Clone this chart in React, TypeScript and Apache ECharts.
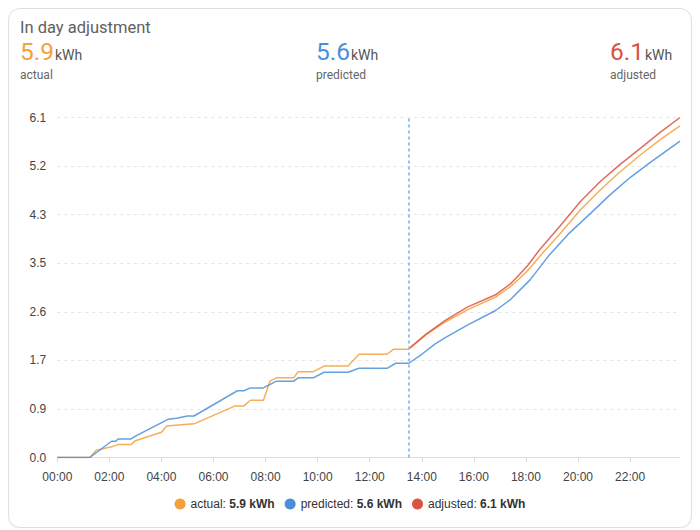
import React, { useEffect, useRef } from "react";
import * as echarts from "echarts";

const seriesNames = ["actual", "predicted", "adjusted"];
const seriesColors = ["#f5a03c", "#4a90d9", "#d9533f"];
const unit = "kWh";

const actualTimes = ["00:00", "01:15", "01:30", "02:05", "02:20", "02:50", "03:00", "04:00", "04:12", "05:15", "06:50", "07:10", "07:25", "07:55", "08:10", "08:25", "09:05", "09:15", "09:50", "10:15", "11:10", "11:35", "12:40", "12:55", "13:30", "14:10", "14:55", "15:45", "16:50", "17:25", "17:45", "18:05", "18:30", "19:20", "20:05", "20:50", "21:35", "22:25", "23:10", "23:55"];
const actualValues = [0, 0, 0.13, 0.19, 0.23, 0.23, 0.3, 0.45, 0.56, 0.6, 0.92, 0.92, 1.02, 1.02, 1.36, 1.42, 1.42, 1.53, 1.53, 1.63, 1.63, 1.84, 1.84, 1.93, 1.93, 2.19, 2.42, 2.63, 2.86, 3.05, 3.19, 3.34, 3.57, 4.0, 4.41, 4.76, 5.08, 5.4, 5.67, 5.91];

const predictedTimes = ["00:00", "01:15", "02:05", "02:15", "02:20", "02:50", "03:00", "04:15", "04:35", "05:00", "05:15", "06:55", "07:10", "07:25", "07:55", "08:25", "09:05", "09:15", "09:50", "10:15", "11:10", "11:35", "12:40", "13:00", "13:30", "14:00", "14:30", "14:55", "15:45", "16:50", "17:25", "18:10", "18:55", "19:40", "20:30", "21:15", "22:00", "22:45", "23:55"];
const predictedValues = [0, 0, 0.29, 0.29, 0.33, 0.33, 0.38, 0.68, 0.7, 0.74, 0.74, 1.19, 1.19, 1.24, 1.24, 1.36, 1.36, 1.42, 1.42, 1.52, 1.52, 1.59, 1.59, 1.68, 1.68, 1.84, 2.02, 2.14, 2.36, 2.62, 2.82, 3.17, 3.62, 4.0, 4.36, 4.69, 4.99, 5.25, 5.64];

const adjustedTimes = ["13:30", "14:10", "14:55", "15:45", "16:50", "17:25", "17:45", "18:05", "18:30", "19:20", "20:05", "20:50", "21:35", "22:25", "23:10", "23:55"];
const adjustedValues = [1.94, 2.2, 2.45, 2.68, 2.9, 3.1, 3.26, 3.43, 3.69, 4.14, 4.56, 4.91, 5.21, 5.52, 5.8, 6.06];

const nowTime = "13:30";
const xTickHours = [0, 2, 4, 6, 8, 10, 12, 14, 16, 18, 20, 22];
const ySplits = 7;

const toHours = (t: string) => {
  const [h, m] = t.split(":").map(Number);
  return h + m / 60;
};
const pad = (n: number) => (n < 10 ? "0" + n : "" + n);
const pairs = (ts: string[], vs: number[]) => ts.map((t, i) => [toHours(t), vs[i]]);

const allTimes = [actualTimes, predictedTimes, adjustedTimes];
const allValues = [actualValues, predictedValues, adjustedValues];
const totals = allValues.map((v) => v[v.length - 1].toFixed(1));

export default function App() {
  const ref = useRef<HTMLDivElement>(null);

  useEffect(() => {
    if (!ref.current) return;
    const chart = echarts.init(ref.current, undefined, { renderer: "svg" });
    const yMax = Math.max(...adjustedValues, ...actualValues, ...predictedValues);
    const xMax = Math.max(...allTimes.map((ts) => toHours(ts[ts.length - 1])));
    const headFont = "Roboto, 'Noto Sans', sans-serif";
    const chartFont = "'Liberation Sans', Arial, Helvetica, sans-serif";

    const blockX = [11, 307, 601];
    const graphic: any[] = [
      {
        type: "text",
        x: 11,
        y: 18,
        style: { text: "In day adjustment", fill: "#616161", fontSize: 16.5, fontFamily: headFont, verticalAlign: "middle", align: "left" },
      },
    ];
    seriesNames.forEach((name, i) => {
      graphic.push({
        type: "text",
        x: blockX[i],
        y: 42.5,
        style: { text: totals[i], fill: seriesColors[i], fontSize: 24.5, fontFamily: headFont, verticalAlign: "middle", align: "left" },
      });
      graphic.push({
        type: "text",
        x: blockX[i] + 35,
        y: 46,
        style: { text: unit, fill: "#555", fontSize: 14, fontFamily: headFont, verticalAlign: "middle", align: "left" },
      });
      graphic.push({
        type: "text",
        x: blockX[i],
        y: 66,
        style: { text: name, fill: "#666", fontSize: 12, fontFamily: headFont, verticalAlign: "middle", align: "left" },
      });
    });

    const series: any[] = seriesNames.map((name, i) => ({
      name,
      type: "line",
      data: pairs(allTimes[i], allValues[i]),
      showSymbol: false,
      symbol: "none",
      color: seriesColors[i],
      lineStyle: { width: 1.5, color: seriesColors[i], opacity: 0.85 },
      z: 2 + i,
    }));
    series[1].markLine = {
      silent: true,
      symbol: ["none", "none"],
      label: { show: false },
      lineStyle: { color: "#90c6f5", type: [3, 3], width: 2 },
      data: [{ xAxis: toHours(nowTime) }],
    };

    chart.setOption({
      animation: false,
      textStyle: { fontFamily: chartFont },
      graphic,
      grid: { left: 48.3, right: 11, top: 108.5, bottom: 69.5 },
      legend: {
        data: seriesNames.map((n) => ({ name: n, icon: "circle" })),
        left: "center",
        top: 484,
        itemWidth: 11,
        itemHeight: 11,
        itemGap: 10,
        textStyle: {
          fontSize: 12,
          color: "#333",
          fontFamily: chartFont,
          rich: {
            n: { fontSize: 12, color: "#333", fontFamily: chartFont },
            b: { fontSize: 12, color: "#333", fontWeight: "bold", fontFamily: chartFont },
          },
        },
        formatter: (name: string) => {
          const i = seriesNames.indexOf(name);
          return "{n|" + name + ": }{b|" + totals[i] + " " + unit + "}";
        },
      },
      xAxis: {
        type: "value",
        min: 0,
        max: xMax,
        interval: 2,
        axisLine: { show: true, lineStyle: { color: "#dcdcdc" } },
        axisTick: { show: true, length: 5, lineStyle: { color: "#dcdcdc" }, customValues: xTickHours },
        axisLabel: {
          color: "#444",
          fontSize: 12,
          margin: 13,
          customValues: xTickHours,
          formatter: (v: number) => pad(Math.round(v)) + ":00",
        },
        splitLine: { show: false },
      },
      yAxis: {
        type: "value",
        min: 0,
        max: yMax,
        interval: yMax / ySplits,
        axisLine: { show: false },
        axisTick: { show: false },
        axisLabel: { color: "#444", fontSize: 12, margin: 11, formatter: (v: number) => v.toFixed(1) },
        splitLine: { show: true, lineStyle: { color: "#e4e4e4", type: [3, 4], width: 1 } },
      },
      series,
    });
    return () => chart.dispose();
  }, []);

  return (
    <div
      style={{
        width: 684,
        height: 520,
        boxSizing: "border-box",
        border: "1px solid #e0e0e0",
        borderRadius: 12,
        background: "#fff",
        boxShadow: "0 1px 2px rgba(0,0,0,0.06)",
        overflow: "hidden",
      }}
    >
      <div ref={ref} style={{ width: 682, height: 518 }} />
    </div>
  );
}
